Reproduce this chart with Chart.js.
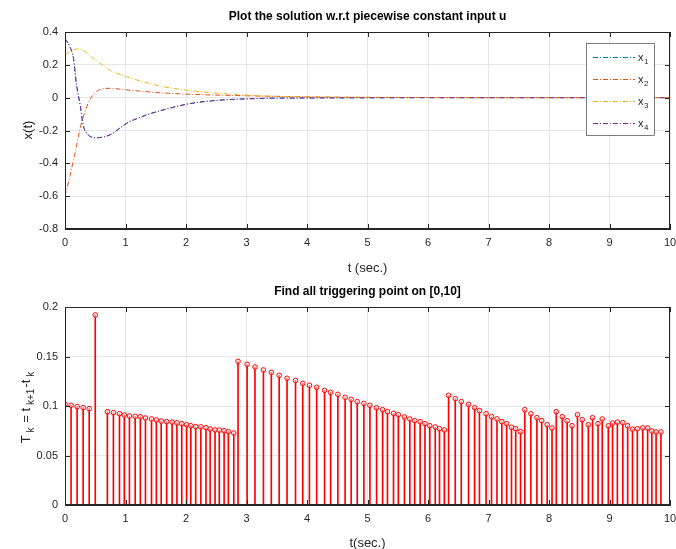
<!DOCTYPE html>
<html>
<head>
<meta charset="utf-8">
<script src="https://cdn.jsdelivr.net/npm/chart.js@4.4.1/dist/chart.umd.min.js"></script>
<style>
  body { margin: 0; background: #fff; }
  #wrap { position: relative; width: 676px; height: 549px; }
  #top-box { position: absolute; left: 0; top: 0; width: 676px; height: 280px; }
  #bottom-box { position: absolute; left: 0; top: 280px; width: 676px; height: 269px; }
</style>
</head>
<body>
<div id="wrap">
  <div id="top-box"><canvas id="state-chart" width="676" height="280"></canvas></div>
  <div id="bottom-box"><canvas id="trigger-chart" width="676" height="269"></canvas></div>
</div>
<script>
const FONT = "'Liberation Sans', Arial, Helvetica, sans-serif";
const INK = "#262626";
const GRID = "#e6e6e6";

// state trajectories
const x1Time = [0, 0.08, 0.14, 0.19, 0.25, 0.3, 0.385, 0.52, 0.74, 1.02, 1.35, 1.68, 2.01, 2.4, 3.2, 4, 5, 6, 7, 8, 9, 10];
const x1Values = [0.36, 0.31, 0.24, 0.08, -0.044, -0.166, -0.227, -0.244, -0.227, -0.156, -0.105, -0.069, -0.04, -0.02, -0.005, -0.002, -0.001, 0, 0, 0, 0, 0];
const x2Time = [0, 0.08, 0.165, 0.25, 0.33, 0.41, 0.52, 0.74, 1.02, 1.57, 2.12, 2.95, 4, 5, 6, 7, 8, 9, 10];
const x2Values = [-0.6, -0.48, -0.339, -0.187, -0.085, -0.014, 0.037, 0.057, 0.047, 0.03, 0.02, 0.012, 0.005, 0.002, 0.001, 0, 0, 0, 0];
const x3Time = [0, 0.1, 0.22, 0.47, 0.74, 1.02, 1.57, 2.12, 2.67, 3.16, 4, 5, 6, 7, 8, 9, 10];
const x3Values = [0.26, 0.285, 0.297, 0.24, 0.169, 0.128, 0.071, 0.041, 0.023, 0.012, 0.005, 0.002, 0.001, 0, 0, 0, 0];
const x4Time = [0, 0.08, 0.14, 0.19, 0.25, 0.3, 0.385, 0.52, 0.74, 1.02, 1.35, 1.68, 2.01, 2.4, 3.2, 4, 5, 6, 7, 8, 9, 10];
const x4Values = [0.36, 0.31, 0.24, 0.08, -0.044, -0.166, -0.227, -0.244, -0.227, -0.156, -0.105, -0.069, -0.04, -0.02, -0.005, -0.002, -0.001, 0, 0, 0, 0, 0];

const seriesNames = ["1", "2", "3", "4"];
const seriesColors = ["#0072BD", "#D95319", "#EDB120", "#7E2F8E"];

// triggering instants t_k and inter-event times T_k
const triggerTimes = [
  0, 0.1, 0.2, 0.3, 0.4, 0.5,
  0.7, 0.8, 0.9, 0.98, 1.065, 1.16, 1.245, 1.33, 1.43, 1.51, 1.59, 1.68, 1.77, 1.85,
  1.93, 2.01, 2.08, 2.16, 2.245, 2.33, 2.4, 2.48, 2.55, 2.63, 2.7, 2.79,
  2.86, 3.01, 3.14, 3.28, 3.41, 3.54, 3.67, 3.81, 3.93, 4.04, 4.16, 4.29, 4.39, 4.51,
  4.63, 4.73, 4.83, 4.94, 5.04, 5.15, 5.25, 5.33, 5.43, 5.51, 5.61, 5.7, 5.78, 5.87,
  5.95, 6.03, 6.12, 6.19, 6.27,
  6.34, 6.45, 6.55, 6.67, 6.77, 6.85, 6.96, 7.05, 7.14, 7.22, 7.3, 7.38, 7.45, 7.53,
  7.6, 7.7, 7.8, 7.88, 7.97, 8.05,
  8.12, 8.22, 8.3, 8.38, 8.47, 8.55, 8.65, 8.72, 8.81, 8.88, 8.98, 9.05, 9.13,
  9.22, 9.3, 9.38, 9.46, 9.55, 9.63, 9.7, 9.77, 9.85
];
const triggerIntervals = [
  0.1017, 0.1007, 0.0993, 0.0983, 0.0973, 0.192,
  0.0943, 0.0933, 0.0923, 0.0909, 0.0899, 0.0896, 0.0892, 0.0879, 0.0869, 0.0859, 0.0848, 0.0842, 0.0838, 0.0830,
  0.0822, 0.0811, 0.0801, 0.0791, 0.0790, 0.0781, 0.0768, 0.0758, 0.0757, 0.0751, 0.0741, 0.0727,
  0.1451, 0.1421, 0.1394, 0.1364, 0.134, 0.131, 0.128, 0.1259, 0.1229, 0.1209, 0.1189, 0.1158, 0.1138, 0.1118,
  0.1088, 0.1067, 0.1044, 0.1027, 0.1007, 0.0983, 0.0963, 0.0943, 0.0926, 0.0912, 0.0889, 0.0869, 0.0852, 0.0842,
  0.0822, 0.0801, 0.0788, 0.0771, 0.0758,
  0.1108, 0.1074, 0.1044, 0.1017, 0.0983, 0.0953, 0.0922, 0.0892, 0.0869, 0.0842, 0.0822, 0.0785, 0.0771, 0.0741,
  0.0963, 0.0922, 0.0882, 0.0852, 0.0811, 0.0778,
  0.0943, 0.0892, 0.0852, 0.0801, 0.0912, 0.0862, 0.0811, 0.0882, 0.0822, 0.0869, 0.0800, 0.0828, 0.0838,
  0.0832, 0.0801, 0.0766, 0.0770, 0.0780, 0.0778, 0.0748, 0.0738, 0.0738
];

const xTicks = { min: 0, max: 10, step: 1 };

function toPoints(xs, ys) {
  return xs.map((x, i) => ({ x, y: ys[i] }));
}

function tickFont() {
  return { family: FONT, size: 11 };
}

// "0.10" -> "0.1", "0.0" -> "0"
function tickLabel(value) {
  return String(Number(Number(value).toFixed(4)));
}

// MATLAB style box: full frame plus inward tick marks, plus free text
const framePlugin = {
  id: "frame",
  afterDraw(chart, args, opts) {
    const { ctx, chartArea: a } = chart;
    const xs = chart.scales.x;
    const ys = chart.scales.y;
    ctx.save();
    ctx.strokeStyle = INK;
    ctx.lineWidth = 1;
    ctx.strokeRect(Math.round(a.left) + 0.5, Math.round(a.top) + 0.5,
      Math.round(a.width) - 1, Math.round(a.height) - 1);
    ctx.beginPath();
    for (const t of xs.ticks) {
      const px = Math.round(xs.getPixelForValue(t.value)) + 0.5;
      ctx.moveTo(px, a.bottom); ctx.lineTo(px, a.bottom - 5);
      ctx.moveTo(px, a.top); ctx.lineTo(px, a.top + 5);
    }
    for (const t of ys.ticks) {
      const py = Math.round(ys.getPixelForValue(t.value)) + 0.5;
      ctx.moveTo(a.left, py); ctx.lineTo(a.left + 5, py);
      ctx.moveTo(a.right, py); ctx.lineTo(a.right - 5, py);
    }
    ctx.stroke();

    ctx.fillStyle = "#000";
    ctx.textAlign = "center";
    ctx.textBaseline = "middle";
    ctx.font = `bold 12px ${FONT}`;
    ctx.fillText(opts.title, (a.left + a.right) / 2, opts.titleY);
    ctx.fillStyle = INK;
    ctx.font = `13px ${FONT}`;
    ctx.fillText(opts.xTitle, (a.left + a.right) / 2, opts.xTitleY);

    // vertical title, pieces may be subscripts
    ctx.translate(opts.yTitleX, opts.yTitleY);
    ctx.rotate(-Math.PI / 2);
    ctx.textAlign = "left";
    const pieces = opts.yTitle;
    let total = 0;
    for (const [text, sub] of pieces) {
      ctx.font = sub ? `10px ${FONT}` : `13px ${FONT}`;
      total += ctx.measureText(text).width + (sub ? 4 : 0);
    }
    let cx = -total / 2;
    for (const [text, sub] of pieces) {
      ctx.font = sub ? `10px ${FONT}` : `13px ${FONT}`;
      if (sub) cx += 3;
      ctx.fillText(text, cx, sub ? 5 : 0);
      cx += ctx.measureText(text).width + (sub ? 1 : 0);
    }
    ctx.restore();
  },
};

// legend with subscripts
const legendPlugin = {
  id: "subLegend",
  afterDraw(chart, args, opts) {
    if (!opts.show) return;
    const { ctx } = chart;
    ctx.save();
    ctx.fillStyle = "#fff";
    ctx.fillRect(586, 43, 68, 92);
    ctx.strokeStyle = INK;
    ctx.lineWidth = 0.6;
    ctx.strokeRect(586.5, 43.5, 68, 92);
    const rows = [57, 79, 101, 123];
    seriesNames.forEach((name, i) => {
      const y = rows[i] + 0.5;
      ctx.strokeStyle = seriesColors[i];
      ctx.lineWidth = 1;
      ctx.setLineDash([5, 2, 1, 2]);
      ctx.beginPath();
      ctx.moveTo(593, y); ctx.lineTo(635, y);
      ctx.stroke();
      ctx.setLineDash([]);
      ctx.fillStyle = INK;
      ctx.textBaseline = "middle";
      ctx.font = `11px ${FONT}`;
      ctx.fillText("x", 638, y);
      ctx.font = `8px ${FONT}`;
      ctx.fillText(name, 644, y + 4);
    });
    ctx.restore();
  },
};

function lineSet(label, xs, ys, color, order) {
  return {
    label,
    data: toPoints(xs, ys),
    borderColor: color,
    borderWidth: 1,
    borderDash: [5, 2, 1, 2],
    pointRadius: 0,
    cubicInterpolationMode: "monotone",
    fill: false,
    order,
  };
}

function baseScales(yMin, yMax, yStep, xHeight) {
  return {
    x: {
      type: "linear",
      min: xTicks.min,
      max: xTicks.max,
      offset: false,
      ticks: { stepSize: xTicks.step, color: INK, font: tickFont(), padding: 7, maxRotation: 0, autoSkip: false, callback: tickLabel },
      grid: { color: GRID, drawTicks: false, offset: false },
      border: { color: INK },
      afterFit: (s) => {
        s.height = xHeight;
        s.paddingLeft = 0;
        s.paddingRight = 0;
      },
    },
    y: {
      min: yMin,
      max: yMax,
      ticks: { stepSize: yStep, color: INK, font: tickFont(), padding: 7, callback: tickLabel },
      grid: { color: GRID, drawTicks: false },
      border: { color: INK },
      afterFit: (s) => {
        s.width = 65;
        s.paddingTop = 0;
        s.paddingBottom = 0;
      },
    },
  };
}

new Chart(document.getElementById("state-chart"), {
  type: "line",
  data: {
    datasets: [
      lineSet("x1", x1Time, x1Values, seriesColors[0], 4),
      lineSet("x2", x2Time, x2Values, seriesColors[1], 3),
      lineSet("x3", x3Time, x3Values, seriesColors[2], 2),
      lineSet("x4", x4Time, x4Values, seriesColors[3], 1),
    ],
  },
  options: {
    responsive: false,
    animation: false,
    devicePixelRatio: 1,
    layout: { padding: { top: 32, right: 6, left: 0, bottom: 0 } },
    scales: baseScales(-0.8, 0.4, 0.2, 51),
    plugins: {
      legend: { display: false },
      tooltip: { enabled: false },
      frame: {
        title: "Plot the solution w.r.t piecewise constant input u",
        titleY: 17,
        xTitle: "t (sec.)",
        xTitleY: 268,
        yTitle: [["x(t)", false]],
        yTitleX: 28,
        yTitleY: 130,
      },
      subLegend: { show: true },
    },
  },
  plugins: [framePlugin, legendPlugin],
});

new Chart(document.getElementById("trigger-chart"), {
  type: "bar",
  data: {
    datasets: [
      {
        type: "line",
        label: "marks",
        data: toPoints(triggerTimes, triggerIntervals),
        showLine: false,
        pointRadius: 2.3,
        pointBorderWidth: 1,
        pointBorderColor: "#ff0000",
        pointBackgroundColor: "rgba(255,255,255,0.5)",
      },
      {
        type: "bar",
        label: "stems",
        data: toPoints(triggerTimes, triggerIntervals),
        backgroundColor: "#ff0000",
        borderWidth: 0,
        barThickness: 1,
        grouped: false,
      },
    ],
  },
  options: {
    responsive: false,
    animation: false,
    devicePixelRatio: 1,
    layout: { padding: { top: 27, right: 6, left: 0, bottom: 0 } },
    scales: baseScales(0, 0.2, 0.05, 44),
    plugins: {
      legend: { display: false },
      tooltip: { enabled: false },
      frame: {
        title: "Find all triggering point on [0,10]",
        titleY: 12,
        xTitle: "t(sec.)",
        xTitleY: 263,
        yTitle: [["T", false], ["k", true], [" = t", false], ["k+1", true], ["-t", false], ["k", true]],
        yTitleX: 26,
        yTitleY: 127,
      },
      subLegend: { show: false },
    },
  },
  plugins: [framePlugin, legendPlugin],
});
</script>
</body>
</html>
